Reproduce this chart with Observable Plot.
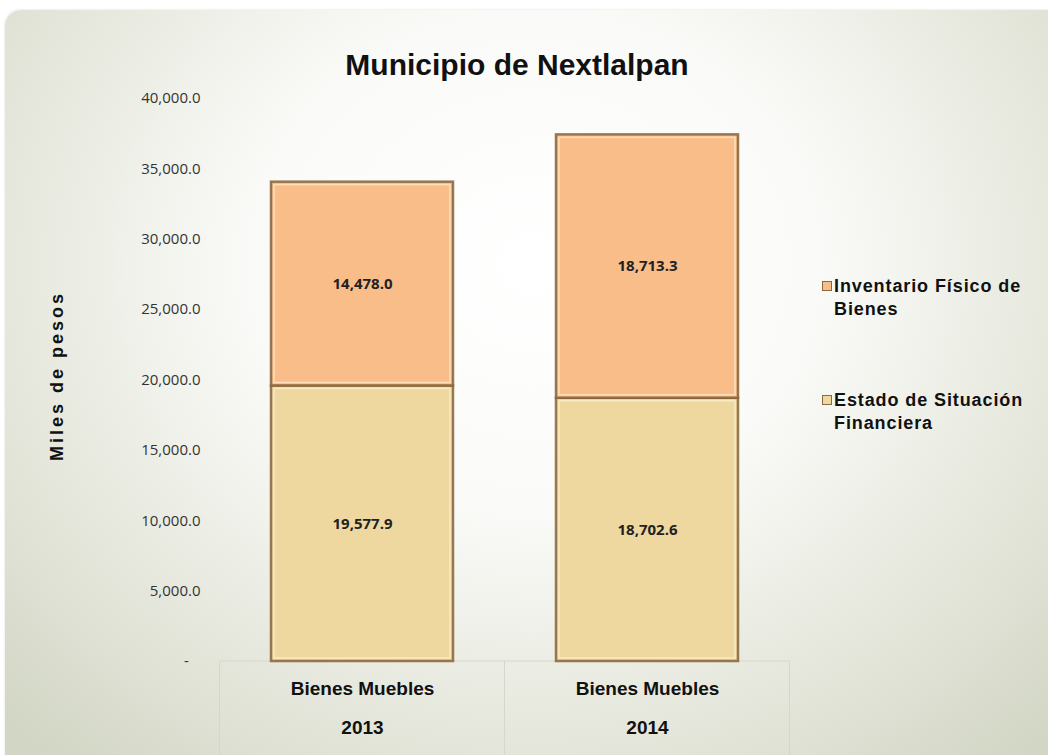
<!DOCTYPE html>
<html>
<head>
<meta charset="utf-8">
<script src="https://cdn.jsdelivr.net/npm/d3@7"></script>
<script src="https://cdn.jsdelivr.net/npm/@observablehq/plot@0.6"></script>
<style>
  html, body { margin: 0; padding: 0; background: #ffffff; }
  #wrap { position: relative; width: 1048px; height: 755px; overflow: hidden; background: #fff; }
  #panel { position: absolute; left: 5px; top: 10px; width: 1060px; height: 770px; border-radius: 16px;
    background: radial-gradient(ellipse 70% 85% at 50% 33%, #ffffff 0%, #fafbf8 38%, #e5e7dc 72%, #d2d6c4 100%);
    box-shadow: -1px -1px 2px rgba(0,0,0,0.06); }
  #title { position: absolute; left: 0; width: 1034px; top: 48px; text-align: center;
    font-family: "Liberation Sans", Arial, sans-serif; font-weight: bold; font-size: 30px; color: #111; }
  #ylabel { position: absolute; left: 57px; top: 376px; transform: translate(-50%, -50%) rotate(-90deg);
    font-family: "Liberation Sans", Arial, sans-serif; font-weight: bold; font-size: 18px; letter-spacing: 3px; color: #111; white-space: nowrap; }
  .leg { position: absolute; left: 822px; font-family: "Liberation Sans", Arial, sans-serif; font-weight: bold;
    font-size: 18px; line-height: 23px; letter-spacing: 0.9px; color: #111; white-space: nowrap; }
  .sw { display: inline-block; width: 10px; height: 10px; margin-right: 2px; vertical-align: 1px;
    border: 1px solid #8a6a40; box-sizing: border-box; }
  #chart { position: absolute; left: 0; top: 0; }
</style>
</head>
<body>
<div id="wrap">
  <div id="panel"></div>
  <div id="chart"></div>
  <div id="title">Municipio de Nextlalpan</div>
  <div id="ylabel">Miles de pesos</div>
  <div class="leg" style="top:275px"><span class="sw" style="background:#f9bd8a"></span>Inventario Físico de<br><span style="padding-left:12px">Bienes</span></div>
  <div class="leg" style="top:389px"><span class="sw" style="background:#efd8a0"></span>Estado de Situación<br><span style="padding-left:12px">Financiera</span></div>
</div>
<script>
const years = ["2013", "2014"];
const group = "Bienes Muebles";
const seriesNames = ["Estado de Situación Financiera", "Inventario Físico de Bienes"];
const estado = [19577.9, 18702.6];
const inventario = [14478.0, 18713.3];
const yTicks = [0, 5000, 10000, 15000, 20000, 25000, 30000, 35000, 40000];
const colors = ["#efd8a0", "#f9bd8a"];

const rows = [];
years.forEach((y, i) => rows.push({year: y, series: seriesNames[0], value: estado[i]}));
years.forEach((y, i) => rows.push({year: y, series: seriesNames[1], value: inventario[i]}));

const fmt = d3.format(",.1f");

function tableLines(index, scales, values, dimensions) {
  const ns = "http://www.w3.org/2000/svg";
  const g = document.createElementNS(ns, "g");
  const x = scales.x, yS = scales.y;
  const step = x.step ? x.step() : x.bandwidth() / (1 - 0.36);
  const bw = x.bandwidth();
  const y0 = yS(0);
  const bottom = dimensions.height;
  const edges = [];
  years.forEach((yr, i) => {
    const c = x(yr) + bw / 2;
    if (i === 0) edges.push(c - step / 2);
    edges.push(c + step / 2);
  });
  const mk = (x1, y1, x2, y2) => {
    const l = document.createElementNS(ns, "line");
    l.setAttribute("x1", x1); l.setAttribute("y1", y1);
    l.setAttribute("x2", x2); l.setAttribute("y2", y2);
    l.setAttribute("stroke", "#d4d8ca"); l.setAttribute("stroke-width", "1");
    g.appendChild(l);
  };
  mk(edges[0], y0, edges[edges.length - 1], y0);
  edges.forEach(e => mk(e, y0, e, bottom));
  return g;
}

const plot = Plot.plot({
  width: 1048,
  height: 755,
  marginTop: 98,
  marginBottom: 94,
  marginLeft: 220,
  marginRight: 258,
  style: {background: "transparent", overflow: "visible"},
  x: {domain: years, paddingInner: 0.36, paddingOuter: 0.18, axis: null},
  y: {domain: [0, 40000], axis: null},
  color: {domain: seriesNames, range: colors},
  marks: [
    tableLines,
    Plot.axisY(yTicks, {
      tickSize: 0, tickPadding: 20, label: null,
      tickFormat: d => d === 0 ? "-\u00a0\u00a0\u00a0" : fmt(d),
      fontSize: 15, fill: "#333", fontFamily: "'Open Sans', sans-serif"
    }),
    Plot.barY(rows, {x: "year", y: "value", fill: "series", stroke: "#86643a", strokeWidth: 2.5, strokeOpacity: 0.85}),
    Plot.barY(rows, {x: "year", y: "value", fill: "none", stroke: "#fff6dc", strokeWidth: 1.5, strokeOpacity: 0.6, inset: 3}),
    Plot.text(rows, Plot.stackY({x: "year", y: "value", z: "series", text: d => fmt(d.value),
      fontWeight: "bold", fontSize: 15, fill: "#222", fontFamily: "'Open Sans', sans-serif"})),
    Plot.axisX(years, {tickSize: 0, tickPadding: 20, label: null, tickFormat: () => group,
      fontWeight: "bold", fontSize: 19, fill: "#111", fontFamily: "'Liberation Sans', Arial, sans-serif",
      style: {letterSpacing: "1.1px"}}),
    Plot.axisX(years, {tickSize: 0, tickPadding: 59, label: null, tickFormat: d => d,
      fontWeight: "bold", fontSize: 19, fill: "#111", fontFamily: "'Liberation Sans', Arial, sans-serif",
      style: {letterSpacing: "1.1px"}})
  ]
});
document.getElementById("chart").appendChild(plot);
</script>
</body>
</html>
